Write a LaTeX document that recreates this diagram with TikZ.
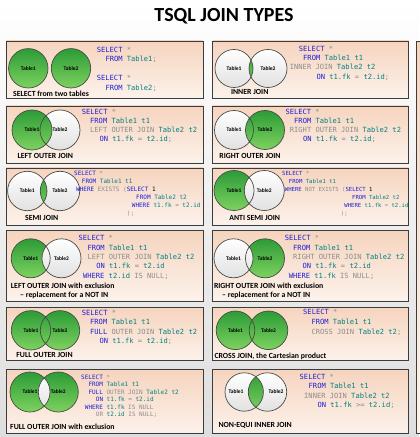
\documentclass[tikz,border=0pt]{standalone}
\usepackage{fontspec}
\setmainfont{Carlito}
\newfontfamily\codefam{DejaVu Sans Mono}
\definecolor{kwblue}{RGB}{30,30,215}
\definecolor{sqlgrey}{RGB}{140,140,140}
\definecolor{sqlteal}{RGB}{0,128,128}
\definecolor{peachTop}{RGB}{246,212,190}
\definecolor{peachBot}{RGB}{252,242,235}
\definecolor{panelC}{RGB}{60,60,60}
\definecolor{grnTop}{RGB}{45,155,55}
\definecolor{grnBot}{RGB}{125,210,95}
\definecolor{whtBot}{RGB}{225,225,225}
\definecolor{ringC}{RGB}{70,75,70}
\definecolor{bgBot}{RGB}{222,222,222}
\newcommand\sqlkw[1]{\textcolor{kwblue}{#1}}
\newcommand\sqlgr[1]{\textcolor{sqlgrey}{#1}}
\newcommand\sqltl[1]{\textcolor{sqlteal}{#1}}
\newcommand\codebig{\codefam\fontsize{7.1bp}{8bp}\selectfont}
\newcommand\codesml{\codefam\fontsize{6bp}{7bp}\selectfont}
\newcommand\codetiny{\codefam\fontsize{5.6bp}{7bp}\selectfont}
\newcommand\capfont{\bfseries\fontsize{7.8bp}{9bp}\selectfont}
\newcommand\cirfont{\bfseries\fontsize{5.5bp}{6bp}\selectfont}
\tikzset{
  panelbox/.style={draw=panelC, line width=0.9bp, top color=peachTop, bottom color=peachBot},
  grn/.style={top color=grnTop, bottom color=grnBot},
  wht/.style={top color=white, bottom color=whtBot},
  ring/.style={draw=ringC, line width=0.7bp},
  codeln/.style={font=\codebig, anchor=mid west, inner sep=0pt},
  codelns/.style={font=\codesml, anchor=mid west, inner sep=0pt},
  codelnt/.style={font=\codetiny, anchor=mid west, inner sep=0pt},
  captxt/.style={font=\capfont, inner sep=0pt},
  captxtw/.style={captxt, anchor=west},
  tabtxt/.style={font=\cirfont, inner sep=0pt},
}
\begin{document}
\begin{tikzpicture}[x=1bp,y=-1bp]
\useasboundingbox (0,0) rectangle (419,437);
\path[top color=white, bottom color=bgBot] (0,0) rectangle (419,437);
\node[font=\bfseries\fontsize{20bp}{22bp}\selectfont, inner sep=0pt] (title) at (224,16.5) {TSQL JOIN TYPES};

% panels
\foreach \ya/\yb in {41/98.5, 106/163, 168/225, 230/301, 307.5/360, 369/433.5}{
  \path[panelbox] (6,\ya) rectangle (203,\yb);
  \path[panelbox] (212.5,\ya) rectangle (408.5,\yb);
}
\path[panelbox] (416,41.5) rectangle (440,433.5);

% ---------- P1: two tables
\coordinate (a1) at (28.3,68.3); \coordinate (a2) at (71,68.3);
\path[grn, ring] (a1) circle[radius=19.7];
\path[grn, ring] (a2) circle[radius=19.7];
\node[tabtxt] (a1t) at (a1) {Table1};
\node[tabtxt] (a2t) at (a2) {Table2};
\node[captxt] (a3) at (51,93.3) {SELECT from two tables};
\node[codeln] (a4) at (96.7,50) {\sqlkw{SELECT} \sqlgr{*}};
\node[codeln] (a5) at (105.3,59.5) {\sqlkw{FROM} \sqltl{Table1}\sqlgr{;}};
\node[codeln] (a6) at (96.7,78.5) {\sqlkw{SELECT} \sqlgr{*}};
\node[codeln] (a7) at (105.3,88) {\sqlkw{FROM} \sqltl{Table2}\sqlgr{;}};

% ---------- P2: inner join
\coordinate (b1) at (234,68.5); \coordinate (b2) at (268,68.5);
\path[wht] (b1) circle[radius=19]; \path[wht] (b2) circle[radius=19];
\begin{scope}\clip (b1) circle[radius=19]; \path[grn] (b2) circle[radius=19];\end{scope}
\draw[ring] (b1) circle[radius=19] (b2) circle[radius=19];
\node[tabtxt] (b1t) at (b1) {Table1};
\node[tabtxt] (b2t) at (b2) {Table2};
\node[captxt] (b3) at (249.7,91.7) {INNER JOIN};
\node[codeln] (b4) at (298.7,49) {\sqlkw{SELECT} \sqlgr{*}};
\node[codeln] (b5) at (303,58.3) {\sqlkw{FROM} \sqltl{Table1 t1}};
\node[codeln] (b6) at (289.7,67.6) {\sqlgr{INNER JOIN} \sqltl{Table2 t2}};
\node[codeln] (b7) at (316.3,77) {\sqlkw{ON} \sqltl{t1.fk} \sqlgr{=} \sqltl{t2.id}\sqlgr{;}};

% ---------- P3: left outer join
\coordinate (c1) at (32,130); \coordinate (c2) at (60,130);
\path[wht] (c2) circle[radius=20];
\path[grn] (c1) circle[radius=20];
\draw[ring] (c1) circle[radius=20] (c2) circle[radius=20];
\node[tabtxt] (c1t) at (c1) {Table1};
\node[tabtxt] (c2t) at (c2) {Table2};
\node[captxt] (c3) at (45.3,156) {LEFT OUTER JOIN};
\node[codeln] (c4) at (81.7,111.7) {\sqlkw{SELECT} \sqlgr{*}};
\node[codeln] (c5) at (90,121) {\sqlkw{FROM} \sqltl{Table1 t1}};
\node[codeln] (c6) at (90,130.3) {\sqlgr{LEFT OUTER JOIN} \sqltl{Table2 t2}};
\node[codeln] (c7) at (99.3,139.6) {\sqlkw{ON} \sqltl{t1.fk} \sqlgr{=} \sqltl{t2.id}\sqlgr{;}};

% ---------- P4: right outer join
\coordinate (d1) at (234,130); \coordinate (d2) at (265,130);
\path[wht] (d1) circle[radius=19.5];
\path[grn] (d2) circle[radius=19.5];
\draw[ring] (d1) circle[radius=19.5] (d2) circle[radius=19.5];
\node[tabtxt] (d1t) at (d1) {Table1};
\node[tabtxt] (d2t) at (d2) {Table2};
\node[captxt] (d3) at (250,156) {RIGHT OUTER JOIN};
\node[codeln] (d4) at (285.3,111.7) {\sqlkw{SELECT} \sqlgr{*}};
\node[codeln] (d5) at (294,121) {\sqlkw{FROM} \sqltl{Table1 t1}};
\node[codeln] (d6) at (289.7,130.3) {\sqlgr{RIGHT OUTER JOIN} \sqltl{Table2 t2}};
\node[codeln] (d7) at (303,139.6) {\sqlkw{ON} \sqltl{t1.fk} \sqlgr{=} \sqltl{t2.id}\sqlgr{;}};

% ---------- P5: semi join
\coordinate (e1) at (27.3,191); \coordinate (e2) at (60,191);
\path[wht] (e1) circle[radius=19.7]; \path[wht] (e2) circle[radius=19.7];
\begin{scope}\clip (e1) circle[radius=19.7]; \path[grn] (e2) circle[radius=19.7];\end{scope}
\draw[ring] (e1) circle[radius=19.7] (e2) circle[radius=19.7];
\node[tabtxt] (e1t) at (e1) {Table1};
\node[tabtxt] (e2t) at (e2) {Table2};
\node[captxt] (e3) at (41.7,218) {SEMI JOIN};
\node[codelns] (e4) at (74,173) {\sqlkw{SELECT} \sqlgr{*}};
\node[codelns] (e5) at (81.7,181) {\sqlkw{FROM} \sqltl{Table1 t1}};
\node[codelns] (e6) at (76,189) {\sqlkw{WHERE} \sqlgr{EXISTS (}\sqlkw{SELECT} 1};
\node[codelns] (e7) at (136,197) {\sqlkw{FROM} \sqltl{Table2 t2}};
\node[codelns] (e8) at (131.7,205) {\sqlkw{WHERE} \sqltl{t1.fk} \sqlgr{=} \sqltl{t2.id}};
\node[codelns] (e9) at (126.7,213) {\sqlgr{);}};

% ---------- P6: anti semi join
\coordinate (f1) at (234,190.5); \coordinate (f2) at (264.3,190.5);
\path[grn] (f1) circle[radius=20];
\path[wht] (f2) circle[radius=20];
\draw[ring] (f1) circle[radius=20] (f2) circle[radius=20];
\node[tabtxt] (f1t) at (f1) {Table1};
\node[tabtxt] (f2t) at (f2) {Table2};
\node[captxt] (f3) at (254.7,218) {ANTI SEMI JOIN};
\node[codelnt] (f4) at (282,173) {\sqlkw{SELECT} \sqlgr{*}};
\node[codelnt] (f5) at (288.7,181) {\sqlkw{FROM} \sqltl{Table1 t1}};
\node[codelnt] (f6) at (284.7,189) {\sqlkw{WHERE} \sqlgr{NOT EXISTS (}\sqlkw{SELECT} 1};
\node[codelnt] (f7) at (352,197) {\sqlkw{FROM} \sqltl{Table2 t2}};
\node[codelnt] (f8) at (344.2,205) {\sqlkw{WHERE} \sqltl{t1.fk} \sqlgr{=} \sqltl{t2.id}};
\node[codelnt] (f9) at (340.7,213) {\sqlgr{);}};

% ---------- P7: left outer join with exclusion
\coordinate (g1) at (30.7,258.3); \coordinate (g2) at (61.5,258.3);
\path[grn] (g1) circle[radius=19.5];
\path[wht] (g2) circle[radius=19.5];
\draw[ring] (g1) circle[radius=19.5] (g2) circle[radius=19.5];
\node[tabtxt] (g1t) at (g1) {Table1};
\node[tabtxt] (g2t) at (g2) {Table2};
\node[captxtw] (g3) at (10.7,285.7) {LEFT OUTER JOIN with exclusion};
\node[captxtw] (g3b) at (20,295) {– replacement for a NOT IN};
\node[codeln] (g4) at (78.5,238.3) {\sqlkw{SELECT} \sqlgr{*}};
\node[codeln] (g5) at (87.3,247.7) {\sqlkw{FROM} \sqltl{Table1 t1}};
\node[codeln] (g6) at (87.3,257) {\sqlgr{LEFT OUTER JOIN} \sqltl{Table2 t2}};
\node[codeln] (g7) at (96.1,266.3) {\sqlkw{ON} \sqltl{t1.fk} \sqlgr{=} \sqltl{t2.id}};
\node[codeln] (g8) at (82.9,275.7) {\sqlkw{WHERE} \sqltl{t2.id} \sqlgr{IS NULL;}};

% ---------- P8: right outer join with exclusion
\coordinate (h1) at (233.5,258.3); \coordinate (h2) at (265,258.3);
\path[grn] (h2) circle[radius=19.5];
\path[wht] (h1) circle[radius=19.5];
\draw[ring] (h1) circle[radius=19.5] (h2) circle[radius=19.5];
\node[tabtxt] (h1t) at (h1) {Table1};
\node[tabtxt] (h2t) at (h2) {Table2};
\node[captxtw] (h3) at (213.8,285.7) {RIGHT OUTER JOIN with exclusion};
\node[captxtw] (h3b) at (222,295) {– replacement for a NOT IN};
\node[codeln] (h4) at (284.7,238.3) {\sqlkw{SELECT} \sqlgr{*}};
\node[codeln] (h5) at (293,247.7) {\sqlkw{FROM} \sqltl{Table1 t1}};
\node[codeln] (h6) at (293,257) {\sqlgr{RIGHT OUTER JOIN} \sqltl{Table2 t2}};
\node[codeln] (h7) at (302.3,266.3) {\sqlkw{ON} \sqltl{t1.fk} \sqlgr{=} \sqltl{t2.id}};
\node[codeln] (h8) at (288.6,275.7) {\sqlkw{WHERE} \sqltl{t1.fk} \sqlgr{IS NULL;}};

% ---------- P9: full outer join
\coordinate (i1) at (31,330.3); \coordinate (i2) at (60,330.3);
\path[grn] (i1) circle[radius=19.7];
\path[grn] (i2) circle[radius=19.7];
\draw[ring] (i1) circle[radius=19.7] (i2) circle[radius=19.7];
\node[tabtxt] (i1t) at (i1) {Table1};
\node[tabtxt] (i2t) at (i2) {Table2};
\node[captxt] (i3) at (44.5,355.3) {FULL OUTER JOIN};
\node[codeln] (i4) at (81.7,313) {\sqlkw{SELECT} \sqlgr{*}};
\node[codeln] (i5) at (90,322.3) {\sqlkw{FROM} \sqltl{Table1 t1}};
\node[codeln] (i6) at (90,331.7) {\sqlkw{FULL} \sqlgr{OUTER JOIN} \sqltl{Table2 t2}};
\node[codeln] (i7) at (99.3,341) {\sqlkw{ON} \sqltl{t1.fk} \sqlgr{=} \sqltl{t2.id}\sqlgr{;}};

% ---------- P10: cross join
\coordinate (j1) at (235.5,330.3); \coordinate (j2) at (268.5,330.3);
\path[grn] (j1) circle[radius=19.3];
\path[grn] (j2) circle[radius=19.3];
\draw[ring] (j1) circle[radius=19.3] (j2) circle[radius=19.3];
\node[tabtxt] (j1t) at (j1) {Table1};
\node[tabtxt] (j2t) at (j2) {Table2};
\node[captxtw] (j3) at (214.3,356.3) {CROSS JOIN, the Cartesian product};
\node[codeln] (j4) at (303,312.3) {\sqlkw{SELECT} \sqlgr{*}};
\node[codeln] (j5) at (311.3,322) {\sqlkw{FROM} \sqltl{Table1 t1}};
\node[codeln] (j6) at (311.3,331.7) {\sqlgr{CROSS JOIN} \sqltl{Table2 t2}\sqlgr{;}};

% ---------- P11: full outer join with exclusion
\coordinate (k1) at (30,392); \coordinate (k2) at (58.3,392);
\path[grn] (k1) circle[radius=20];
\path[grn] (k2) circle[radius=20];
\begin{scope}\clip (k1) circle[radius=20]; \path[wht] (k2) circle[radius=20];\end{scope}
\draw[ring] (k1) circle[radius=20] (k2) circle[radius=20];
\node[tabtxt] (k1t) at (k1) {Table1};
\node[tabtxt] (k2t) at (k2) {Table2};
\node[captxtw] (k3) at (10,427) {FULL OUTER JOIN with exclusion};
\node[codelns] (k4) at (81,377) {\sqlkw{SELECT} \sqlgr{*}};
\node[codelns] (k5) at (88.3,384.5) {\sqlkw{FROM} \sqltl{Table1 t1}};
\node[codelns] (k6) at (88.3,392) {\sqlkw{FULL} \sqlgr{OUTER JOIN} \sqltl{Table2 t2}};
\node[codelns] (k7) at (95.7,399.5) {\sqlkw{ON} \sqltl{t1.fk} \sqlgr{=} \sqltl{t2.id}};
\node[codelns] (k8) at (84.7,407) {\sqlkw{WHERE} \sqltl{t1.fk} \sqlgr{IS NULL}};
\node[codelns] (k9) at (95.7,414.5) {\sqlgr{OR} \sqltl{t2.id} \sqlgr{IS NULL;}};

% ---------- P12: non-equi inner join
\coordinate (l1) at (244.2,392); \coordinate (l2) at (267.5,392);
\path[wht] (l1) circle[radius=19.2]; \path[wht] (l2) circle[radius=19.2];
\begin{scope}\clip (l1) circle[radius=19.2]; \path[grn] (l2) circle[radius=19.2];\end{scope}
\draw[ring] (l1) circle[radius=19.2] (l2) circle[radius=19.2];
\node[tabtxt] (l1t) at (236,392) {Table1};
\node[tabtxt] (l2t) at (276,392) {Table2};
\node[captxtw] (l3) at (218.3,425.3) {NON-EQUI INNER JOIN};
\node[codeln] (l4) at (299.5,377) {\sqlkw{SELECT} \sqlgr{*}};
\node[codeln] (l5) at (308.5,386.5) {\sqlkw{FROM} \sqltl{Table1 t1}};
\node[codeln] (l6) at (304,396) {\sqlgr{INNER JOIN} \sqltl{Table2 t2}};
\node[codeln] (l7) at (317.4,405.5) {\sqlkw{ON} \sqltl{t1.fk} \sqlgr{>=} \sqltl{t2.id}\sqlgr{;}};
\end{tikzpicture}
\end{document}
